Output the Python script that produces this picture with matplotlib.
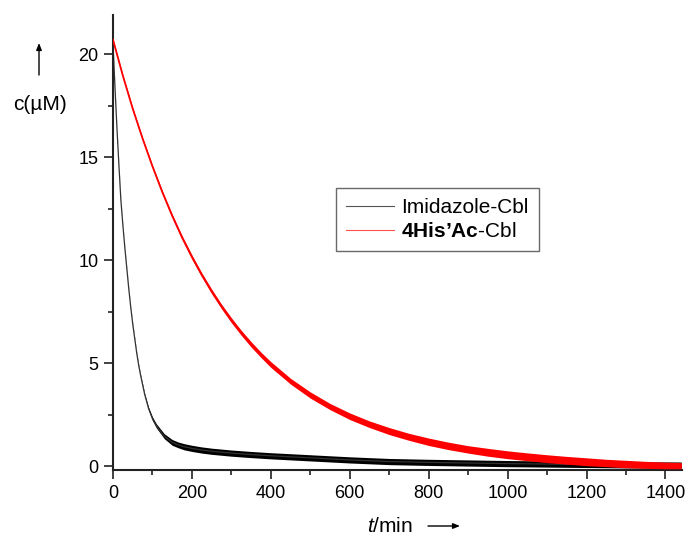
import matplotlib
matplotlib.use("Agg")
import matplotlib.pyplot as plt
from matplotlib.lines import Line2D
from matplotlib.patches import FancyArrowPatch
from matplotlib.ticker import MultipleLocator

plt.rcParams['font.family'] = ['Liberation Sans', 'DejaVu Sans']
plt.rcParams['mathtext.fontset'] = 'custom'
plt.rcParams['mathtext.rm'] = 'Liberation Sans'
plt.rcParams['mathtext.it'] = 'Liberation Sans:italic'
plt.rcParams['mathtext.bf'] = 'Liberation Sans:bold'

# ---- data ----
t_imid = [0, 5, 10, 15, 20, 25, 30, 35, 40, 45, 50, 55, 60, 65, 70, 75, 80, 85, 90,
          95, 100, 110, 120, 130, 140, 150, 165, 180, 200, 225, 250, 300, 350, 400,
          450, 500, 600, 700, 800, 900, 1000, 1100, 1200, 1300, 1440]
c_imid = [20.5, 18.4, 16.4, 14.6, 12.9, 11.7, 10.6, 9.6, 8.6, 7.7, 6.9, 6.2, 5.5,
          4.9, 4.4, 3.95, 3.5, 3.15, 2.8, 2.55, 2.3, 1.95, 1.7, 1.45, 1.3, 1.15,
          1.03, 0.94, 0.86, 0.78, 0.72, 0.63, 0.56, 0.5, 0.45, 0.4, 0.3, 0.22,
          0.18, 0.15, 0.12, 0.1, 0.08, 0.06, 0.05]
s_imid = [0.02, 0.02, 0.02, 0.02, 0.02, 0.02, 0.02, 0.02, 0.02, 0.02, 0.03, 0.03,
          0.03, 0.04, 0.04, 0.05, 0.05, 0.06, 0.07, 0.08, 0.09, 0.1, 0.11, 0.12,
          0.13, 0.14, 0.14, 0.15, 0.15, 0.15, 0.15, 0.15, 0.15, 0.15, 0.15, 0.15,
          0.15, 0.15, 0.15, 0.15, 0.15, 0.15, 0.15, 0.15, 0.15]

t_his = [0, 25, 50, 75, 100, 125, 150, 175, 200, 225, 250, 275, 300, 325, 350, 375,
         400, 450, 500, 550, 600, 650, 700, 750, 800, 850, 900, 950, 1000, 1050,
         1100, 1150, 1200, 1250, 1300, 1350, 1400, 1440]
c_his = [20.7, 18.95, 17.35, 15.9, 14.55, 13.3, 12.15, 11.1, 10.15, 9.28, 8.48, 7.75,
         7.08, 6.47, 5.91, 5.4, 4.93, 4.12, 3.45, 2.89, 2.42, 2.03, 1.7, 1.42, 1.18,
         0.98, 0.81, 0.67, 0.55, 0.45, 0.36, 0.28, 0.21, 0.15, 0.1, 0.06, 0.03, 0.02]
s_his = [0.04, 0.04, 0.05, 0.05, 0.06, 0.07, 0.08, 0.09, 0.1, 0.1, 0.11, 0.11, 0.12,
         0.12, 0.13, 0.13, 0.14, 0.14, 0.15, 0.15, 0.16, 0.16, 0.17, 0.17, 0.18,
         0.18, 0.18, 0.19, 0.19, 0.19, 0.19, 0.19, 0.19, 0.18, 0.18, 0.17, 0.16,
         0.15]

labels = ["Imidazole-Cbl", r"$\mathbf{4His’Ac}$-Cbl"]
xticks = [0, 200, 400, 600, 800, 1000, 1200, 1400]
yticks = [0, 5, 10, 15, 20]

fig = plt.figure(figsize=(6.87, 5.36), dpi=100)
ax = fig.add_axes([113/687, 1-470/536, 569/687, 455/536])

lo_i = [c - s for c, s in zip(c_imid, s_imid)]
hi_i = [c + s for c, s in zip(c_imid, s_imid)]
lo_h = [c - s for c, s in zip(c_his, s_his)]
hi_h = [c + s for c, s in zip(c_his, s_his)]

ax.fill_between(t_imid, lo_i, hi_i, color='black', lw=0, zorder=2)
ax.plot(t_imid, c_imid, color='#333333', lw=0.9, zorder=2)
ax.fill_between(t_his, lo_h, hi_h, color='#ff0000', lw=0, zorder=3)
ax.plot(t_his, c_his, color='#ff0000', lw=1.3, zorder=3)

ax.set_xlim(0, 1442)
ax.set_ylim(-0.19, 21.9)

for s in ['top', 'right']:
    ax.spines[s].set_visible(False)
for s in ['left', 'bottom']:
    ax.spines[s].set_linewidth(1.5)
    ax.spines[s].set_color('#222222')

ax.set_xticks(xticks)
ax.set_yticks(yticks)
ax.xaxis.set_minor_locator(MultipleLocator(100))
ax.yaxis.set_minor_locator(MultipleLocator(2.5))
ax.tick_params(which='major', direction='out', length=6.5, width=1.2, labelsize=13,
               pad=4.0, color='#222222')
ax.tick_params(which='minor', direction='out', length=3.6, width=1.2, color='#222222')

handles = [Line2D([], [], color='#555555', lw=0.8),
           Line2D([], [], color='#ff5050', lw=0.8)]
leg = ax.legend(handles, labels, loc='upper left',
                bbox_to_anchor=((336-113)/569, (470-188)/455),
                fontsize=15, frameon=True, fancybox=False, handlelength=2.26,
                handletextpad=0.38, borderpad=0.5, labelspacing=0.22,
                borderaxespad=0)
leg.get_frame().set_edgecolor('#444444')
leg.get_frame().set_linewidth(1.0)

# axis labels with arrows
fig.text(40/687, 1-105/536, "c(µM)", fontsize=15, ha='center', va='center')
fig.add_artist(FancyArrowPatch(
    (39/687, 1-75/536), (39/687, 1-43/536), transform=fig.transFigure,
    arrowstyle='-|>,head_length=4,head_width=1.6', lw=1.0, color='black',
    shrinkA=0, shrinkB=0))

fig.text(390/687, 1-532/536, r"$t$/min", fontsize=15, ha='center', va='baseline')
fig.add_artist(FancyArrowPatch(
    (428/687, 1-526/536), (460/687, 1-526/536), transform=fig.transFigure,
    arrowstyle='-|>,head_length=4,head_width=1.6', lw=1.0, color='black',
    shrinkA=0, shrinkB=0))

fig.savefig("out.png", dpi=100)
